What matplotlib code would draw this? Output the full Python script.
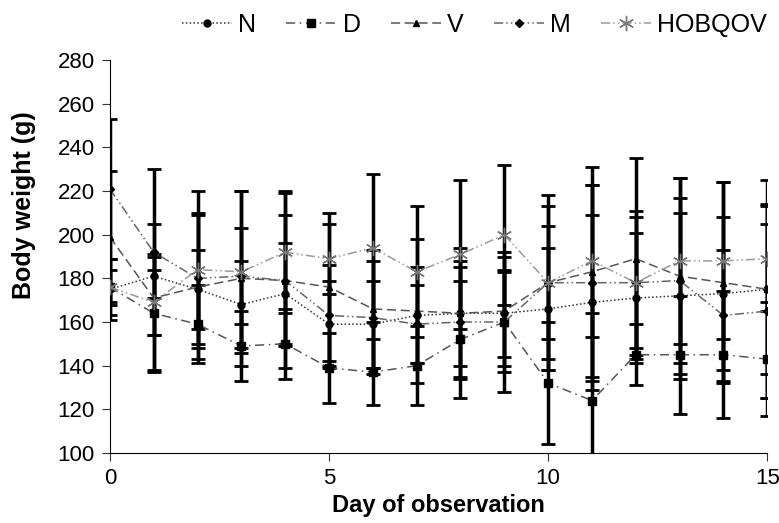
import numpy as np
import matplotlib
matplotlib.use("Agg")
import matplotlib.pyplot as plt

plt.rcParams['font.family'] = ['Liberation Sans', 'DejaVu Sans']

days = list(range(16))

# mean body weight per group
n_mean = [175, 181, 175, 168, 173, 159, 159, 163, 164, 164, 166, 169, 171, 172, 173, 175]
d_mean = [176, 164, 159, 149, 150, 139, 137, 140, 152, 160, 132, 124, 145, 145, 145, 143]
v_mean = [199, 171, 176, 180, 179, 176, 166, 165, 164, 165, 178, 183, 189, 181, 178, 175]
m_mean = [221, 192, 180, 181, 179, 163, 162, 159, 160, 160, 178, 178, 178, 179, 163, 165]
h_mean = [176, 169, 184, 183, 192, 189, 194, 183, 191, 200, 178, 188, 178, 188, 188, 189]

# standard deviations
n_sd = [14, 10, 18, 20, 23, 20, 20, 22, 24, 20, 28, 40, 30, 38, 35, 39]
d_sd = [13, 26, 18, 16, 16, 16, 15, 18, 27, 32, 28, 40, 14, 27, 29, 26]
v_sd = [30, 34, 33, 40, 40, 34, 27, 33, 30, 25, 40, 48, 46, 45, 46, 50]
m_sd = [32, 38, 30, 22, 30, 23, 26, 18, 25, 23, 35, 45, 30, 38, 30, 40]
h_sd = [8, 15, 36, 37, 28, 16, 34, 30, 34, 32, 26, 35, 33, 38, 36, 24]

labels = ["N", "D", "V", "M", "HOBQOV"]
x_ticks = [0, 5, 10, 15]
y_ticks = list(range(100, 281, 20))

fig = plt.figure(figsize=(7.79, 5.23), dpi=100)
ax = fig.add_axes([0.141, 0.134, 0.844, 0.751])

series = [
    (n_mean, n_sd, dict(color="#333333", ls=(0, (1, 1.5)), marker="o", ms=5, mfc="black", mec="black")),
    (d_mean, d_sd, dict(color="#555555", ls=(0, (6, 3, 1, 3)), marker="s", ms=5.5, mfc="black", mec="black")),
    (v_mean, v_sd, dict(color="#555555", ls=(0, (6, 3)), marker="^", ms=5, mfc="black", mec="black")),
    (m_mean, m_sd, dict(color="#666666", ls=(0, (6, 2, 1, 2, 1, 2)), marker="D", ms=4, mfc="black", mec="black")),
    (h_mean, h_sd, dict(color="#999999", ls=(0, (6, 2, 1, 2, 1, 2)), marker=(6, 2, 0), ms=11, mfc="#777777", mec="#777777")),
]

handles = []
for (mean, sd, st), lab in zip(series, labels):
    ax.errorbar(days, mean, yerr=sd, fmt="none", ecolor="black", elinewidth=2.5,
                capsize=5, capthick=2, zorder=2)
    ln, = ax.plot(days, mean, lw=1.1, zorder=3, label=lab, **st)
    handles.append(ln)

ax.set_xlim(0, 15)
ax.set_ylim(100, 280)
ax.set_xticks(x_ticks)
ax.set_yticks(y_ticks)
ax.spines['top'].set_visible(False)
ax.spines['right'].set_visible(False)
ax.tick_params(length=6, color="#333333", pad=5, labelsize=16)
ax.set_xlabel("Day of observation", fontsize=17, fontweight="bold")
ax.set_ylabel("Body weight (g)", fontsize=18, fontweight="bold")
ax.xaxis.set_label_coords(0.5, -0.105)
ax.yaxis.set_label_coords(-0.113, 0.63)

fig.legend(handles=handles, labels=labels, loc="center right", bbox_to_anchor=(1.0, 0.952),
           ncol=5, frameon=False, fontsize=18, handlelength=2.0, columnspacing=1.2,
           handletextpad=0.25, borderaxespad=0.1)

fig.savefig("out.png", dpi=100)
